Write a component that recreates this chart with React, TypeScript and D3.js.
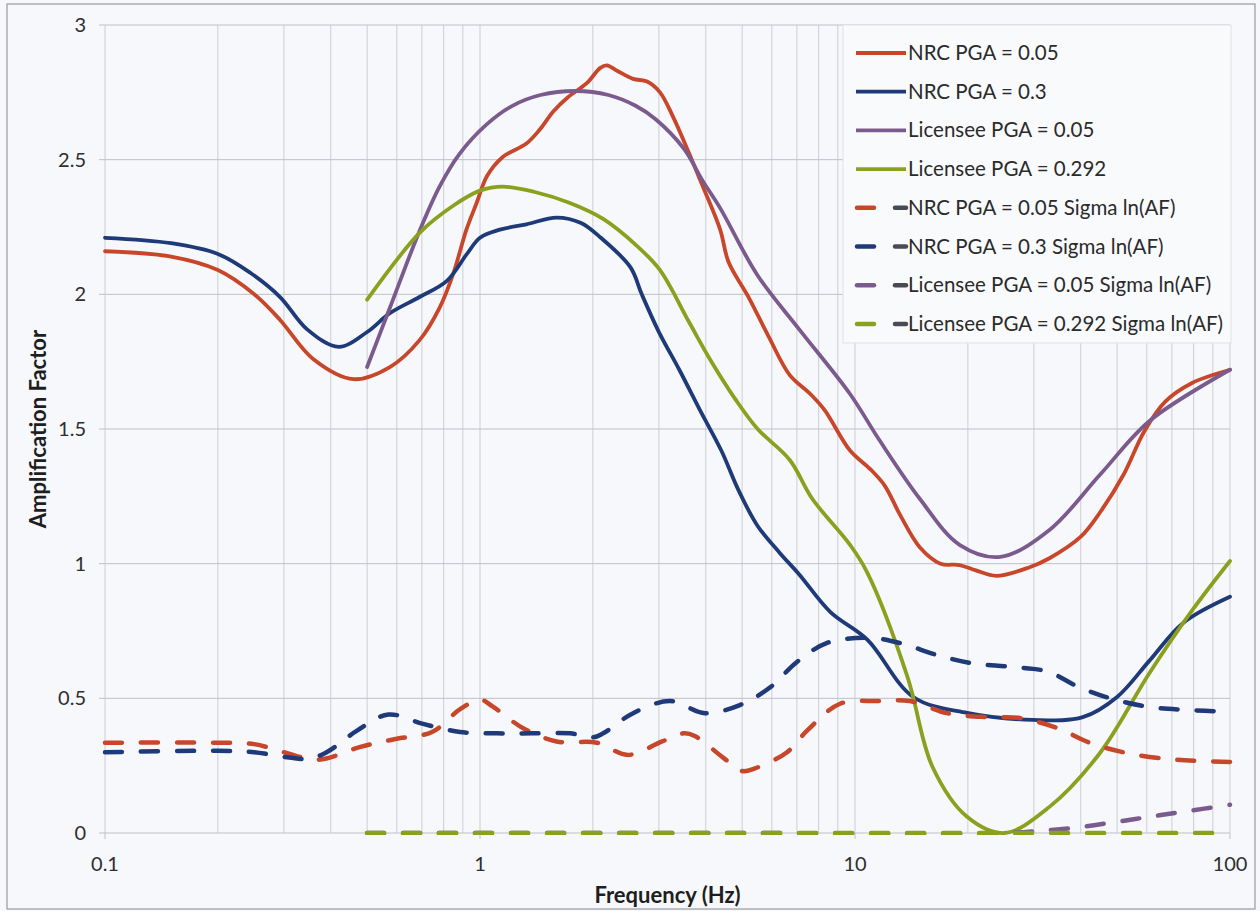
import React from 'react';
import * as d3 from 'd3';

// frequency (Hz) / amplification factor pairs
const nrc005: [number, number][] = [
  [0.1, 2.16], [0.15, 2.14], [0.2, 2.09], [0.25, 2.0], [0.293, 1.905], [0.359, 1.76],
  [0.46, 1.685], [0.575, 1.73], [0.69, 1.83], [0.78, 1.95], [0.85, 2.08],
  [0.92, 2.24], [0.98, 2.34], [1.045, 2.44], [1.15, 2.51], [1.33, 2.56], [1.44, 2.61],
  [1.57, 2.68], [1.71, 2.73], [1.93, 2.785], [2.09, 2.84], [2.18, 2.85], [2.32, 2.83],
  [2.56, 2.8], [2.79, 2.79], [3.02, 2.75], [3.27, 2.66], [3.57, 2.54], [3.93, 2.4],
  [4.37, 2.24], [4.6, 2.12], [5.2, 1.99], [5.9, 1.84], [6.7, 1.7], [7.6, 1.63], [8.3, 1.57],
  [9.7, 1.42], [11, 1.35], [12, 1.29], [13.2, 1.18], [14.9, 1.06], [16.9, 1.0], [19, 0.995],
  [21, 0.975], [23.8, 0.955], [29, 0.985], [33, 1.02], [40, 1.1], [45, 1.19], [52, 1.33],
  [59, 1.49], [67, 1.6], [79, 1.67], [100, 1.72],
];
const nrc03: [number, number][] = [
  [0.1, 2.21], [0.15, 2.19], [0.2, 2.15], [0.244, 2.08], [0.293, 1.99], [0.346, 1.87],
  [0.42, 1.805], [0.5, 1.86], [0.575, 1.93], [0.69, 1.99], [0.816, 2.05],
  [0.923, 2.15], [1.0, 2.21], [1.13, 2.24], [1.33, 2.26], [1.6, 2.285],
  [1.86, 2.265], [2.1, 2.21], [2.52, 2.1], [2.7, 2.0], [3.0, 1.86], [3.4, 1.72], [3.86, 1.57],
  [4.4, 1.42], [4.9, 1.27], [5.5, 1.14], [6.3, 1.04], [7.1, 0.96], [8.6, 0.82], [10.8, 0.717],
  [14.3, 0.505], [19.9, 0.446], [29.8, 0.42], [40.5, 0.43], [50, 0.505], [61, 0.64],
  [75, 0.78], [100, 0.877],
];
const lic005: [number, number][] = [
  [0.5, 1.73], [0.575, 1.95], [0.692, 2.24], [0.78, 2.4], [0.88, 2.52], [1.04, 2.63],
  [1.22, 2.7], [1.45, 2.74], [1.8, 2.755], [2.2, 2.74], [2.6, 2.7], [2.94, 2.65],
  [3.5, 2.54], [3.93, 2.42], [4.37, 2.32], [5.5, 2.07], [7.1, 1.87], [9.7, 1.63],
  [11.6, 1.46], [14.9, 1.24], [19, 1.07], [24.4, 1.025], [33, 1.125], [45, 1.33],
  [61, 1.53], [100, 1.72],
];
const lic0292: [number, number][] = [
  [0.5, 1.98], [0.692, 2.23], [0.85, 2.33], [1.0, 2.385], [1.15, 2.4],
  [1.4, 2.38], [1.73, 2.34], [2.13, 2.28], [2.62, 2.18], [3.02, 2.09], [3.6, 1.9],
  [4.1, 1.76], [4.8, 1.61], [5.5, 1.5], [6.7, 1.385], [7.7, 1.24], [9.7, 1.07],
  [10.8, 0.965], [13.8, 0.58], [16.1, 0.245], [19.9, 0.06], [25, 0.0],
  [33, 0.097], [45, 0.297], [61, 0.594], [79.6, 0.83], [100, 1.01],
];
const nrc005Sigma: [number, number][] = [
  [0.1, 0.335], [0.2, 0.335], [0.25, 0.33], [0.3, 0.3], [0.37, 0.272],
  [0.48, 0.32], [0.6, 0.35], [0.745, 0.375], [0.885, 0.46], [1.0, 0.495], [1.08, 0.47],
  [1.3, 0.39], [1.6, 0.34], [2.05, 0.335], [2.48, 0.29], [3.06, 0.34], [3.5, 0.37],
  [3.74, 0.36], [4.45, 0.28], [5.0, 0.23], [5.41, 0.24], [6.59, 0.3], [7.45, 0.38],
  [9.12, 0.48], [11.5, 0.49], [14, 0.49], [17.6, 0.445], [22.5, 0.43], [27.5, 0.427],
  [34.6, 0.39], [42.3, 0.335], [53, 0.297], [68, 0.275], [83, 0.267], [100, 0.264],
];
const nrc03Sigma: [number, number][] = [
  [0.1, 0.3], [0.2, 0.305], [0.25, 0.3], [0.31, 0.28], [0.35, 0.275], [0.39, 0.3],
  [0.47, 0.38], [0.57, 0.44], [0.705, 0.405], [0.885, 0.375], [1.11, 0.37], [1.38, 0.37],
  [1.74, 0.37], [2.0, 0.355], [2.13, 0.37], [2.56, 0.445], [3.21, 0.49], [3.98, 0.445],
  [4.93, 0.475], [5.93, 0.54], [7.0, 0.635], [8.4, 0.705], [10.8, 0.725], [13.2, 0.705],
  [16.6, 0.66], [20.6, 0.63], [25.9, 0.617], [32.5, 0.6], [39.8, 0.54], [48.8, 0.497],
  [61, 0.468], [76.8, 0.457], [100, 0.45],
];
const lic005Sigma: [number, number][] = [
  [0.5, 0], [5, 0], [25, 0], [31, 0.008], [38.8, 0.02], [49, 0.04], [61, 0.06],
  [76, 0.08], [100, 0.105],
];
const lic0292Sigma: [number, number][] = [[0.5, 0], [100, 0]];

const seriesNames = [
  'NRC PGA = 0.05',
  'NRC PGA = 0.3',
  'Licensee PGA = 0.05',
  'Licensee PGA = 0.292',
  'NRC PGA = 0.05 Sigma ln(AF)',
  'NRC PGA = 0.3 Sigma ln(AF)',
  'Licensee PGA = 0.05 Sigma ln(AF)',
  'Licensee PGA = 0.292 Sigma ln(AF)',
];
const seriesData = [nrc005, nrc03, lic005, lic0292, nrc005Sigma, nrc03Sigma, lic005Sigma, lic0292Sigma];
const seriesColors = ['#c8462a', '#1f3a78', '#7b5b8e', '#8ca020', '#c8462a', '#1f3a78', '#7b5b8e', '#8ca020'];
const seriesDashed = [false, false, false, false, true, true, true, true];

const xTicks = [0.1, 1, 10, 100];
const yTicks = [0, 0.5, 1, 1.5, 2, 2.5, 3];

const W = 1260;
const H = 911;
const margin = { left: 105, right: 30, top: 25, bottom: 78 };
const font = 'Lato, "Open Sans", sans-serif';

export default function App() {
  const x = d3.scaleLog().domain([0.1, 100]).range([margin.left, W - margin.right]);
  const y = d3.scaleLinear().domain([0, 3]).range([H - margin.bottom, margin.top]);

  const line = d3
    .line<[number, number]>()
    .x((d) => x(d[0]))
    .y((d) => y(d[1]))
    .curve(d3.curveCatmullRom.alpha(0.5));

  // minor log gridlines 0.1..100
  const minor: number[] = [];
  [0.1, 1, 10].forEach((dec) => {
    for (let k = 2; k <= 9; k++) minor.push(dec * k);
  });

  const legX = 843;
  const legY = 25;
  const rowH = 38.7;

  return (
    <svg
      width={W}
      height={H}
      style={{ position: 'absolute', left: 0, top: 0, background: '#f7f8fb' }}
    >
      <defs>
        <clipPath id="plot">
          <rect x={x(0.1) - 4} y={y(3) - 4} width={x(100) - x(0.1) + 8} height={y(0) - y(3) + 6} />
        </clipPath>
      </defs>
      <rect x={7} y={4} width={W - 12} height={905} fill="#f7f8fb" stroke="#9a9a9a" strokeWidth={1.2} />

      {/* grid */}
      {minor.concat(xTicks).map((f) => (
        <line key={'gx' + f} x1={x(f)} x2={x(f)} y1={y(3)} y2={y(0)} stroke="#cdced4" strokeWidth={1} />
      ))}
      {yTicks.map((v) => (
        <line key={'gy' + v} x1={x(0.1) - 6} x2={x(100)} y1={y(v)} y2={y(v)} stroke="#bfc0c6" strokeWidth={1} />
      ))}
      {xTicks.map((f) => (
        <line key={'tx' + f} x1={x(f)} x2={x(f)} y1={y(0)} y2={y(0) + 6} stroke="#bfc0c6" />
      ))}

      {/* tick labels */}
      {yTicks.map((v) => (
        <text key={'ly' + v} x={86} y={y(v) + 7} textAnchor="end" fontSize={20} fontFamily={font} fill="#2e2e2e">
          {v}
        </text>
      ))}
      {xTicks.map((f) => (
        <text key={'lx' + f} x={x(f)} y={871} textAnchor="middle" fontSize={20} fontFamily={font} fill="#2e2e2e">
          {f}
        </text>
      ))}

      <text x={(x(0.1) + x(100)) / 2} y={903} textAnchor="middle" fontSize={22} fontWeight="bold" fontFamily={font} fill="#1e1e1e">
        Frequency (Hz)
      </text>
      <text
        transform={`translate(46,${(y(0) + y(3)) / 2}) rotate(-90)`}
        textAnchor="middle"
        fontSize={22}
        fontWeight="bold"
        fontFamily={font}
        fill="#1e1e1e"
      >
        Amplification Factor
      </text>

      {/* series */}
      <g clipPath="url(#plot)">
        {seriesData.map((d, i) => (
          <path
            key={'s' + i}
            d={line(d) || ''}
            fill="none"
            stroke={seriesColors[i]}
            strokeWidth={seriesDashed[i] ? 4.5 : 3.8}
            strokeDasharray={seriesDashed[i] ? '17 19' : undefined}
            strokeLinecap="round"
          />
        ))}
      </g>

      {/* legend */}
      <rect x={legX} y={legY} width={388} height={318} fill="#f9fafc" stroke="#e0e1e5" />
      {seriesNames.map((name, i) => {
        const cy = 53 + i * rowH;
        return (
          <g key={'lg' + i}>
            {seriesDashed[i] ? (
              <>
                <line x1={857} x2={874} y1={cy} y2={cy} stroke={seriesColors[i]} strokeWidth={4.5} strokeLinecap="round" />
                <line x1={895} x2={906} y1={cy} y2={cy} stroke="#4a4a55" strokeWidth={4.5} strokeLinecap="round" />
              </>
            ) : (
              <line x1={856} x2={906} y1={cy} y2={cy} stroke={seriesColors[i]} strokeWidth={3.8} />
            )}
            <text x={908} y={cy + 7} fontSize={20.5} fontFamily={font} fill="#2b2b2b">
              {name}
            </text>
          </g>
        );
      })}
    </svg>
  );
}
